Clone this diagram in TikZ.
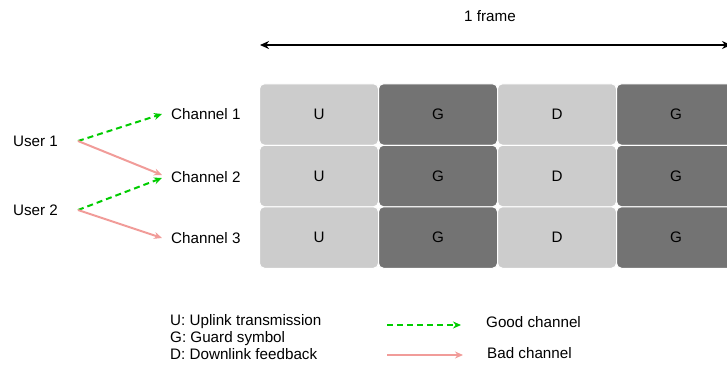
\documentclass[tikz,border=0pt]{standalone}
\usepackage{fontspec}
\setmainfont{Liberation Sans}
\usetikzlibrary{arrows.meta}
\definecolor{goodgreen}{HTML}{00CC00}
\definecolor{badpink}{HTML}{F19C99}
\definecolor{slotlight}{HTML}{CCCCCC}
\definecolor{slotdark}{HTML}{737373}
\tikzset{
  txt/.style={font=\fontsize{15.2}{17}\selectfont, inner sep=0pt},
  good/.style={goodgreen, line width=2pt, dash pattern=on 6pt off 4pt, -{Stealth[length=8pt,width=7pt]}},
  bad/.style={badpink, line width=2pt, -{Stealth[length=8pt,width=7pt]}},
  slot/.style={draw=white, line width=1pt, rounded corners=5pt, minimum width=119pt, minimum height=61.5pt, font=\fontsize{15.2}{17}\selectfont, text=black}
}
\begin{document}
\begin{tikzpicture}[x=1pt, y=-1pt]
\useasboundingbox (0,0) rectangle (727,365);
\clip (0,0) rectangle (727,365);
% frame
\coordinate (fl) at (260,45);
\coordinate (fr) at (731,45);
\draw[line width=2pt, {Stealth[length=9pt,width=8pt]}-{Stealth[length=9pt,width=8pt]}] (fl) -- (fr);
\node[txt] (frame) at (490,16) {1 frame};
% slots
\foreach \r/\y in {1/114.5, 2/176, 3/237.5} {
  \node[slot, fill=slotlight] (s\r1) at (319,\y) {U};
  \node[slot, fill=slotdark] (s\r2) at (438,\y) {G};
  \node[slot, fill=slotlight] (s\r3) at (557,\y) {D};
  \node[slot, fill=slotdark] (s\r4) at (676,\y) {G};
}
% users and channels
\node[txt, anchor=east, inner xsep=20pt] (u1) at (78,141) {User 1};
\node[txt, anchor=east, inner xsep=20pt] (u2) at (78,210) {User 2};
\node[txt, anchor=west, inner xsep=9pt] (ch1) at (162,114) {Channel 1};
\node[txt, anchor=west, inner xsep=9pt] (ch2) at (162,177) {Channel 2};
\node[txt, anchor=west, inner xsep=9pt] (ch3) at (162,238) {Channel 3};
\draw[good] (u1.east) -- (ch1.west);
\draw[bad] (u1.east) -- ([yshift=2pt]ch2.west);
\draw[good] (u2.east) -- ([yshift=-1pt]ch2.west);
\draw[bad] (u2.east) -- (ch3.west);
% legend
\node[txt, anchor=west, align=left] (key) at (170,337) {U: Uplink transmission\\G: Guard symbol\\D: Downlink feedback};
\coordinate (g1) at (387,325);
\coordinate (g2) at (461,325);
\coordinate (b1) at (387,355);
\coordinate (b2) at (463,355);
\draw[good] (g1) -- (g2);
\draw[bad] (b1) -- (b2);
\node[txt, anchor=west] (goodlbl) at (486,322) {Good channel};
\node[txt, anchor=west] (badlbl) at (487,353) {Bad channel};
\end{tikzpicture}
\end{document}
